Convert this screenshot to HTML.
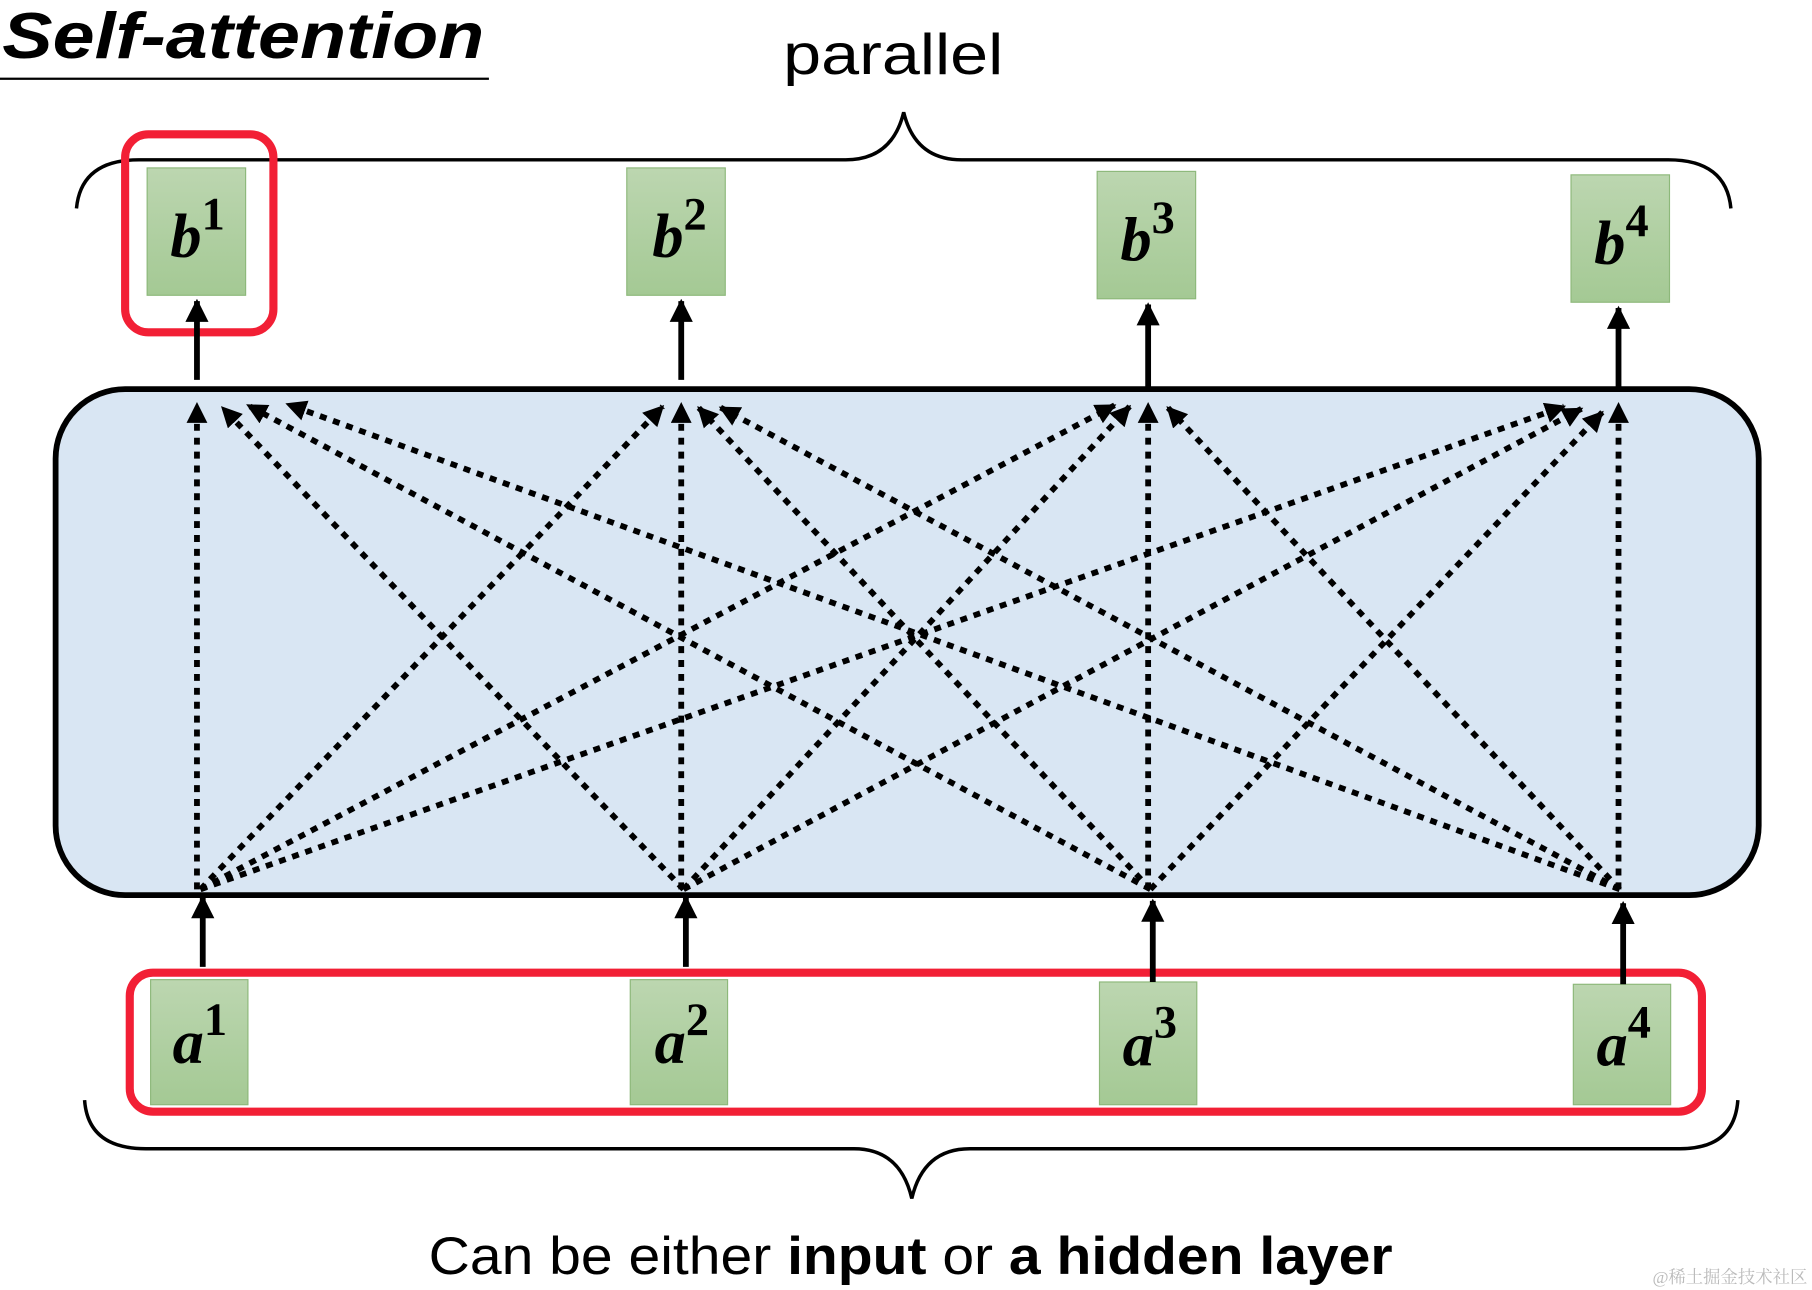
<!DOCTYPE html>
<html><head><meta charset="utf-8"><style>
html,body{margin:0;padding:0;background:#fff;}
svg{display:block}
</style></head><body>
<svg width="1812" height="1290" viewBox="0 0 1564 1114" preserveAspectRatio="none" xmlns="http://www.w3.org/2000/svg">
<defs>
<marker id="ah" viewBox="0 0 10 10" refX="9" refY="5" markerWidth="4" markerHeight="4" orient="auto" markerUnits="strokeWidth"><path d="M0,0 L10,5 L0,10 z" fill="#000"/></marker>
<marker id="ah2" viewBox="0 0 10 10" refX="9" refY="5" markerWidth="3.6" markerHeight="3.6" orient="auto" markerUnits="strokeWidth"><path d="M0,0 L10,5 L0,10 z" fill="#000"/></marker>
<linearGradient id="g" x1="0" y1="0" x2="0" y2="1"><stop offset="0" stop-color="#bcd6b0"/><stop offset="1" stop-color="#a4c994"/></linearGradient>
</defs>
<text x="2" y="50" font-family="Liberation Sans, sans-serif" font-size="56" font-weight="bold" font-style="italic" textLength="416" lengthAdjust="spacingAndGlyphs">Self-attention</text>
<line x1="0" y1="68" x2="422" y2="68" stroke="#000" stroke-width="2"/>
<text x="676" y="64" font-family="Liberation Sans, sans-serif" font-size="50" textLength="190" lengthAdjust="spacingAndGlyphs">parallel</text>
<path d="M66,180 Q70,138 120,138 L730,138 Q770,138 780,97 Q790,138 830,138 L1440,138 Q1490,138 1494,180" fill="none" stroke="#000" stroke-width="3"/>
<rect x="48" y="336" width="1470" height="437" rx="60" fill="#d9e6f3" stroke="#000" stroke-width="5"/>
<g font-family="Liberation Serif, serif" font-weight="bold" font-style="italic" font-size="54">
<rect x="127" y="145" width="85" height="110" fill="url(#g)" stroke="#8db87a"/><text x="147" y="222">b<tspan font-style="normal" font-size="40" dy="-24">1</tspan></text>
<rect x="541" y="145" width="85" height="110" fill="url(#g)" stroke="#8db87a"/><text x="563" y="222">b<tspan font-style="normal" font-size="40" dy="-24">2</tspan></text>
<rect x="947" y="148" width="85" height="110" fill="url(#g)" stroke="#8db87a"/><text x="967" y="225">b<tspan font-style="normal" font-size="40" dy="-24">3</tspan></text>
<rect x="1356" y="151" width="85" height="110" fill="url(#g)" stroke="#8db87a"/><text x="1376" y="228">b<tspan font-style="normal" font-size="40" dy="-24">4</tspan></text>
<rect x="130" y="846" width="84" height="108" fill="url(#g)" stroke="#8db87a"/><text x="149" y="918">a<tspan font-style="normal" font-size="40" dy="-24">1</tspan></text>
<rect x="544" y="846" width="84" height="108" fill="url(#g)" stroke="#8db87a"/><text x="565" y="918">a<tspan font-style="normal" font-size="40" dy="-24">2</tspan></text>
<rect x="949" y="848" width="84" height="106" fill="url(#g)" stroke="#8db87a"/><text x="969" y="920">a<tspan font-style="normal" font-size="40" dy="-24">3</tspan></text>
<rect x="1358" y="850" width="84" height="104" fill="url(#g)" stroke="#8db87a"/><text x="1378" y="920">a<tspan font-style="normal" font-size="40" dy="-24">4</tspan></text>
</g>
<rect x="108" y="116" width="128" height="171" rx="20" fill="none" stroke="#f21f35" stroke-width="7"/>
<rect x="112" y="840" width="1357" height="120" rx="20" fill="none" stroke="#f21f35" stroke-width="7"/>
<g stroke="#000" stroke-width="5" marker-end="url(#ah)">
<line x1="170" y1="328" x2="170" y2="260"/><line x1="588" y1="328" x2="588" y2="260"/>
<line x1="991" y1="334" x2="991" y2="263"/><line x1="1397" y1="334" x2="1397" y2="266"/>
<line x1="175" y1="835" x2="175" y2="775"/><line x1="592" y1="835" x2="592" y2="775"/>
<line x1="995" y1="848" x2="995" y2="778"/><line x1="1401" y1="850" x2="1401" y2="780"/>
</g>
<g stroke="#000" stroke-width="5" stroke-dasharray="6 6" marker-end="url(#ah2)" fill="none">
<line x1="170" y1="768" x2="170" y2="349"/><line x1="590" y1="768" x2="192" y2="352"/><line x1="993" y1="768" x2="214" y2="350"/><line x1="1398" y1="768" x2="248" y2="349"/>
<line x1="173" y1="768" x2="572" y2="351"/><line x1="588" y1="768" x2="588" y2="349"/><line x1="993" y1="768" x2="603" y2="352"/><line x1="1398" y1="768" x2="622" y2="352"/>
<line x1="173" y1="768" x2="962" y2="350"/><line x1="590" y1="768" x2="975" y2="351"/><line x1="991" y1="768" x2="991" y2="349"/><line x1="1398" y1="768" x2="1008" y2="352"/>
<line x1="173" y1="768" x2="1350" y2="351"/><line x1="590" y1="768" x2="1365" y2="353"/><line x1="993" y1="768" x2="1383" y2="356"/><line x1="1397" y1="768" x2="1397" y2="349"/>
</g>
<path d="M73,950 Q76,992 126,992 L737,992 Q777,992 787,1035 Q797,992 837,992 L1450,992 Q1497,992 1500,950" fill="none" stroke="#000" stroke-width="3"/>
<text x="370" y="1100" font-family="Liberation Sans, sans-serif" font-size="46" textLength="832" lengthAdjust="spacingAndGlyphs">Can be either <tspan font-weight="bold">input</tspan> or <tspan font-weight="bold">a hidden layer</tspan></text>
<text x="1560" y="1108" text-anchor="end" font-family="Liberation Serif, Noto Serif CJK SC, serif" font-size="15" fill="#bbb">@稀土掘金技术社区</text>
</svg>
</body></html>
